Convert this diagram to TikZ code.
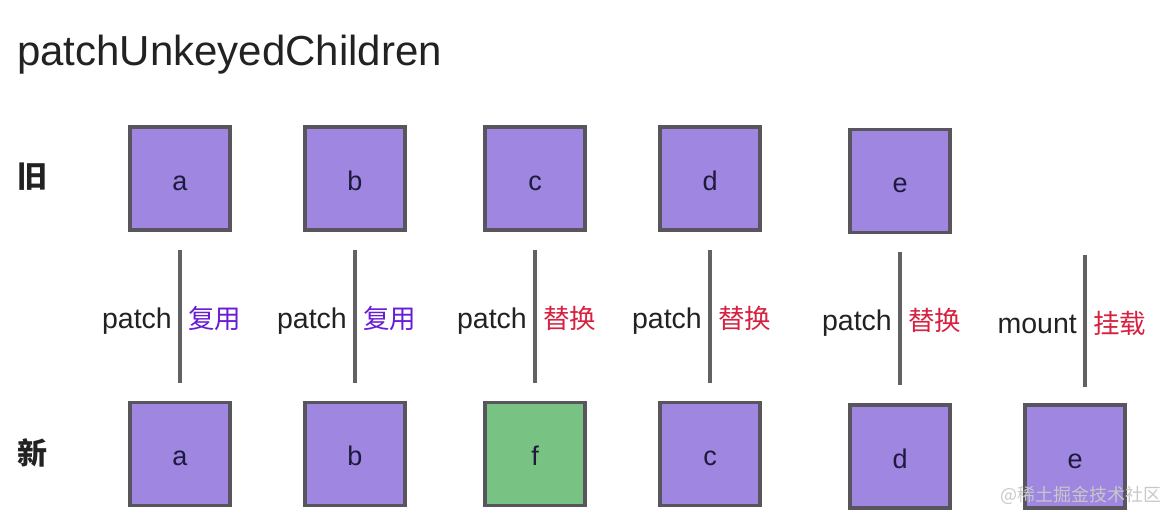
\documentclass[tikz,border=0pt]{standalone}
\usepackage{fontspec}
\setmainfont{Liberation Sans}
\newfontfamily\cjk{Noto Sans CJK SC}
\usepackage{xcolor}
\usepackage{tikz}
\usetikzlibrary{positioning,calc}
\definecolor{boxline}{RGB}{88,86,92}
\definecolor{oldfill}{RGB}{158,134,225}
\definecolor{newfill}{RGB}{120,195,131}
\definecolor{linkline}{RGB}{98,98,98}
\definecolor{txtdark}{RGB}{34,34,34}
\definecolor{boxtxt}{RGB}{30,26,62}
\definecolor{reuse}{RGB}{104,28,214}
\definecolor{swap}{RGB}{214,34,64}
\definecolor{wmark}{RGB}{200,200,200}
\tikzset{
  vbox/.style  ={draw=boxline, line width=3.5pt, fill=oldfill, minimum width=100pt,
                 minimum height=103pt, inner sep=0pt, font=\fontsize{27}{27}\selectfont,
                 text=boxtxt, text height=23pt, text depth=0pt},
  vboxn/.style ={vbox, fill=newfill},
  link/.style  ={draw=linkline, line width=3.5pt},
  op/.style    ={font=\fontsize{28.5}{28.5}\selectfont, text=txtdark, inner sep=0pt},
  act/.style   ={font=\cjk\fontsize{26.5}{26.5}\selectfont, inner sep=0pt},
  rowlab/.style={font=\cjk\bfseries\fontsize{30}{30}\selectfont, text=txtdark, inner sep=0pt},
}

\begin{document}
\begin{tikzpicture}[x=1pt,y=-1pt]
  \useasboundingbox (0,0) rectangle (1169,515);
  \node[anchor=base west, font=\fontsize{42}{42}\selectfont, text=txtdark, inner sep=0pt]
    (title) at (17,65) {patchUnkeyedChildren};
  % rows
  \node[rowlab] (oldlab) at (32,177) {旧};
  \node[rowlab] (newlab) at (32,453) {新};
  % old vnodes
  \node[vbox] (o1) at (180,178.5) {a};
  \node[vbox] (o2) at (355,178.5) {b};
  \node[vbox] (o3) at (535,178.5) {c};
  \node[vbox] (o4) at (710,178.5) {d};
  \node[vbox] (o5) at (900,181) {e};
  % new vnodes
  \node[vbox]  (n1) at (180,454) {a};
  \node[vbox]  (n2) at (355,454) {b};
  \node[vboxn] (n3) at (535,454) {f};
  \node[vbox]  (n4) at (710,454) {c};
  \node[vbox]  (n5) at (900,456.5) {d};
  \node[vbox]  (n6) at (1075,456.5) {e};
  % links
  \coordinate (t6) at (1085,255);
  \draw[link] ([yshift=-18pt]o1.south) coordinate (t1) -- ([yshift=18pt]n1.north) coordinate (b1);
  \draw[link] ([yshift=-18pt]o2.south) coordinate (t2) -- ([yshift=18pt]n2.north) coordinate (b2);
  \draw[link] ([yshift=-18pt]o3.south) coordinate (t3) -- ([yshift=18pt]n3.north) coordinate (b3);
  \draw[link] ([yshift=-18pt]o4.south) coordinate (t4) -- ([yshift=18pt]n4.north) coordinate (b4);
  \draw[link] ([yshift=-18pt]o5.south) coordinate (t5) -- ([yshift=18pt]n5.north) coordinate (b5);
  \draw[link] (t6) -- ([yshift=16pt]t6 |- n6.north) coordinate (b6);
  % labels
  \node[op,anchor=base east]  (p1) at ([xshift=-8pt,yshift=-12pt]$(t1)!0.5!(b1)$) {patch};
  \node[act,anchor=west,text=reuse] (r1) at ([xshift=8pt,yshift=-2pt]$(t1)!0.5!(b1)$) {复用};
  \node[op,anchor=base east]  (p2) at ([xshift=-8pt,yshift=-12pt]$(t2)!0.5!(b2)$) {patch};
  \node[act,anchor=west,text=reuse] (r2) at ([xshift=8pt,yshift=-2pt]$(t2)!0.5!(b2)$) {复用};
  \node[op,anchor=base east]  (p3) at ([xshift=-8pt,yshift=-12pt]$(t3)!0.5!(b3)$) {patch};
  \node[act,anchor=west,text=swap]  (r3) at ([xshift=8pt,yshift=-2pt]$(t3)!0.5!(b3)$) {替换};
  \node[op,anchor=base east]  (p4) at ([xshift=-8pt,yshift=-12pt]$(t4)!0.5!(b4)$) {patch};
  \node[act,anchor=west,text=swap]  (r4) at ([xshift=8pt,yshift=-2pt]$(t4)!0.5!(b4)$) {替换};
  \node[op,anchor=base east]  (p5) at ([xshift=-8pt,yshift=-12pt]$(t5)!0.5!(b5)$) {patch};
  \node[act,anchor=west,text=swap]  (r5) at ([xshift=8pt,yshift=-2pt]$(t5)!0.5!(b5)$) {替换};
  \node[op,anchor=base east]  (p6) at ([xshift=-8pt,yshift=-12pt]$(t6)!0.5!(b6)$) {mount};
  \node[act,anchor=west,text=swap]  (r6) at ([xshift=8pt,yshift=-2pt]$(t6)!0.5!(b6)$) {挂载};
  % watermark
  \node[anchor=east, font=\cjk\fontsize{18}{18}\selectfont, text=wmark, inner sep=0pt]
    (wm) at (1162,495) {@稀土掘金技术社区};
\end{tikzpicture}
\end{document}
